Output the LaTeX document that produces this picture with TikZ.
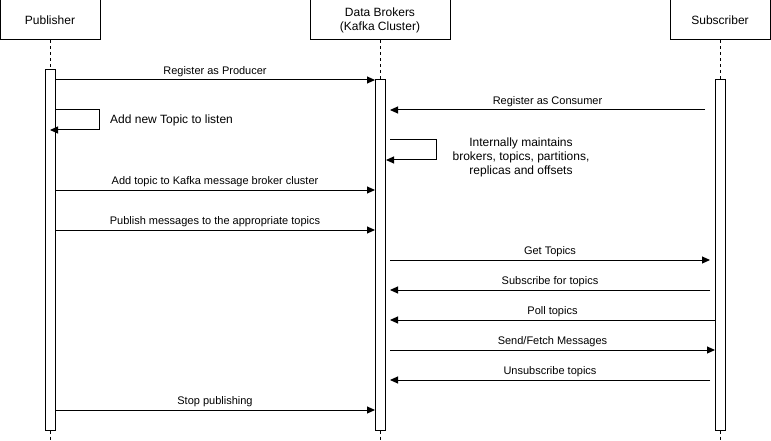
\documentclass[tikz,border=0pt]{standalone}
\usepackage{fontspec}
\setmainfont{Liberation Sans}
\usetikzlibrary{arrows.meta}
\begin{document}
\begin{tikzpicture}[x=1pt,y=-1pt,
  actor/.style={draw,line width=1pt,fill=white,minimum width=100pt,minimum height=40pt,inner sep=0pt,align=center,font=\fontsize{12}{14}\selectfont},
  actbar/.style={draw,line width=1pt,fill=white},
  life/.style={line width=1pt,dash pattern=on 3pt off 3pt},
  msg/.style={line width=1pt,-{Triangle[length=8pt,width=7pt]}},
  lbl/.style={font=\fontsize{11}{13}\selectfont,inner sep=0pt,anchor=base},
  selflbl/.style={font=\fontsize{12}{14}\selectfont,inner sep=0pt,align=center}]
\useasboundingbox (0,0) rectangle (771,441);
% actors
\node[actor] (pub) at (50,20) {Publisher};
\node[actor,minimum width=140pt] (brk) at (380,20) {Data Brokers\\(Kafka Cluster)};
\node[actor] (sub) at (720,20) {Subscriber};
% lifelines
\coordinate (pubend) at (50,441);
\coordinate (brkend) at (380,441);
\coordinate (subend) at (720,441);
\draw[life] (pub.south) -- (pubend);
\draw[life] (brk.south) -- (brkend);
\draw[life] (sub.south) -- (subend);
% activation bars
\node[actbar,minimum width=10pt,minimum height=360pt,inner sep=0pt] (pubbar) at (50,250) {};
\node[actbar,minimum width=10pt,minimum height=350pt,inner sep=0pt] (brkbar) at (380,255) {};
\node[actbar,minimum width=10pt,minimum height=350pt,inner sep=0pt] (subbar) at (720,255) {};
% coordinates for messages
\coordinate (p80) at (55,80);   \coordinate (b80) at (375,80);
\coordinate (p110) at (55,110); \coordinate (p130) at (50,130);
\coordinate (s110) at (705,110); \coordinate (b110) at (390,110);
\coordinate (b140) at (390,140); \coordinate (b160) at (386,160);
\coordinate (p190) at (55,190); \coordinate (b190) at (375,190);
\coordinate (p230) at (55,230); \coordinate (b230) at (375,230);
\coordinate (b260) at (390,260); \coordinate (s260) at (710,260);
\coordinate (s290) at (710,290); \coordinate (b290) at (390,290);
\coordinate (s320) at (715,320); \coordinate (b320) at (390,320);
\coordinate (b350) at (390,350); \coordinate (s350) at (715,350);
\coordinate (s380) at (710,380); \coordinate (b380) at (390,380);
\coordinate (p410) at (55,410); \coordinate (b410) at (375,410);
% messages
\draw[msg] (p80) -- (b80) node[lbl,midway,above=2.5pt] {Register as Producer};
\draw[msg] (p110) -| (99.5,130) -- (p130);
\node[selflbl,anchor=west] (l1) at (110,120.5) {Add new Topic to listen};
\draw[msg] (s110) -- (b110) node[lbl,midway,above=2.5pt] {Register as Consumer};
\draw[msg] (b140) -| (436,160) -- (b160);
\node[selflbl] (l2) at (521,157) {Internally maintains\\brokers, topics, partitions,\\replicas and offsets};
\draw[msg] (p190) -- (b190) node[lbl,midway,above=2.5pt] {Add topic to Kafka message broker cluster};
\draw[msg] (p230) -- (b230) node[lbl,midway,above=2.5pt] {Publish messages to the appropriate topics};
\draw[msg] (b260) -- (s260) node[lbl,midway,above=2.5pt] {Get Topics};
\draw[msg] (s290) -- (b290) node[lbl,midway,above=2.5pt] {Subscribe for topics};
\draw[msg] (s320) -- (b320) node[lbl,midway,above=2.5pt] {Poll topics};
\draw[msg] (b350) -- (s350) node[lbl,midway,above=2.5pt] {Send/Fetch Messages};
\draw[msg] (s380) -- (b380) node[lbl,midway,above=2.5pt] {Unsubscribe topics};
\draw[msg] (p410) -- (b410) node[lbl,midway,above=2.5pt] {Stop publishing};
\end{tikzpicture}
\end{document}
